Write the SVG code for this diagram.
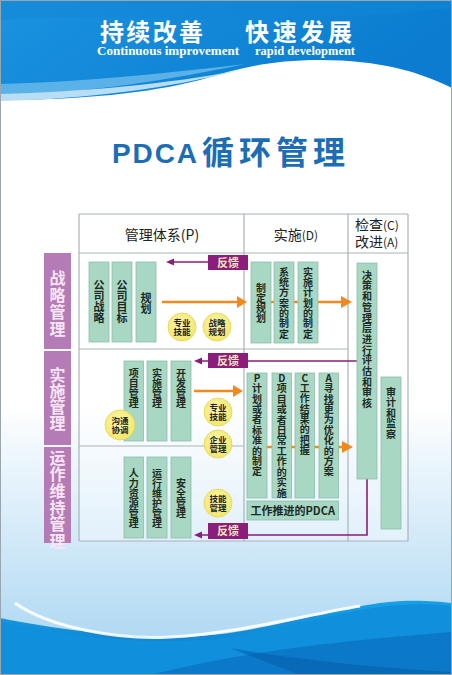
<svg xmlns="http://www.w3.org/2000/svg" width="452" height="675" viewBox="0 0 452 675">
<defs>
<linearGradient id="bg" x1="0" y1="0" x2="0" y2="1">
<stop offset="0" stop-color="#ffffff"/>
<stop offset="0.6" stop-color="#ffffff"/>
<stop offset="0.92" stop-color="#b6dcf4"/>
<stop offset="1" stop-color="#a9d6f2"/>
</linearGradient>
<linearGradient id="topblue" x1="0" y1="0" x2="1" y2="0.3">
<stop offset="0" stop-color="#1a93e0"/>
<stop offset="1" stop-color="#0b7ccf"/>
</linearGradient>
<linearGradient id="botblue" x1="0" y1="0" x2="0" y2="1">
<stop offset="0" stop-color="#18a0e6"/>
<stop offset="1" stop-color="#0a74c6"/>
</linearGradient>
<radialGradient id="yel" cx="0.45" cy="0.4" r="0.6">
<stop offset="0" stop-color="#fbf6b0"/>
<stop offset="1" stop-color="#f3e76a"/>
</radialGradient>
<style>
.box{fill:#a8d7c3;stroke:#8cbfaa;stroke-width:0.8}
.bt{font-family:"Noto Sans CJK SC","Noto Sans",sans-serif;font-weight:bold;font-size:10px;fill:#1d2a24;text-anchor:middle}
.bt11{font-size:11px}
.v{writing-mode:vertical-rl;text-anchor:start}
.fb{fill:#8b1d7d}
.fbt{font-family:"Noto Sans CJK SC",sans-serif;font-weight:bold;font-size:11px;fill:#f7e8b8;text-anchor:middle}
.lab{fill:#b57bb6}
.labt{font-family:"Noto Sans CJK SC",sans-serif;font-weight:bold;font-size:16px;fill:#f8e6f6;writing-mode:vertical-rl;text-anchor:start}
.circ{fill:url(#yel);stroke:#e2d45a;stroke-width:0.8}
.ct{font-family:"Noto Sans CJK SC",sans-serif;font-weight:bold;font-size:8.5px;fill:#222;text-anchor:middle}
.grid{stroke:#a9b3b8;stroke-width:1.2;fill:none}
.or{stroke:#f08a1c;stroke-width:2.5;fill:none}
.orh{fill:#f08a1c}
.pu{stroke:#8b1d7d;stroke-width:1.6;fill:none}
.puh{fill:#8b1d7d}
.ht{font-family:"Noto Sans CJK SC",sans-serif;font-size:14px;fill:#222}
</style>
</defs>

<!-- background -->
<rect x="0" y="0" width="452" height="675" fill="url(#bg)"/>
<path d="M0,0 H452 V88 C420,72 380,60 320,60 C270,60 240,68 200,80 C150,93 80,100 0,100 Z" fill="url(#topblue)"/>
<path d="M0,84 C80,82 160,74 245,64 C170,80 90,92 0,97 Z" fill="#6dbcec" opacity="0.8"/>
<path d="M0,94 C80,92 170,84 240,70 C170,88 90,99 0,101 Z" fill="#b8def6"/>
<path d="M0,20 C120,10 260,30 452,8 V0 H0 Z" fill="#1285d6" opacity="0.5"/>
<path d="M0,618 C60,630 140,640 200,636 C260,632 320,612 380,603 C410,599 435,601 452,603 V675 H0 Z" fill="url(#botblue)"/>
<path d="M0,622 C60,636 140,644 200,640 C260,636 320,616 380,607 C410,603 435,604 452,606 V675 H0 Z" fill="#0f8fdc"/>
<path d="M15,603 C50,628 120,640 170,637 C240,633 300,616 360,606" stroke="#ffffff" stroke-width="3" fill="none" opacity="0.9"/>
<path d="M150,675 C250,650 350,640 452,632 V675 Z" fill="#0a6fbf" opacity="0.7"/>
<path d="M230,648 C300,660 380,668 452,672 V675 H300 Z" fill="#075fae" opacity="0.6"/>
<rect x="0.5" y="0.5" width="451" height="674" fill="none" stroke="#9aa6ad" stroke-width="1"/>

<!-- header texts -->
<g id="header">
<text x="100" y="41" font-family="Noto Sans CJK SC,sans-serif" font-weight="bold" font-size="24" fill="#ffffff" textLength="103" lengthAdjust="spacing">持续改善</text>
<text x="245" y="41" font-family="Noto Sans CJK SC,sans-serif" font-weight="bold" font-size="24" fill="#ffffff" textLength="107" lengthAdjust="spacing">快速发展</text>
<text x="97" y="55" font-family="Liberation Serif,serif" font-weight="bold" font-size="12" fill="#ffffff" textLength="142" lengthAdjust="spacingAndGlyphs">Continuous improvement</text>
<text x="255" y="55" font-family="Liberation Serif,serif" font-weight="bold" font-size="12" fill="#ffffff" textLength="100" lengthAdjust="spacingAndGlyphs">rapid development</text>
</g>
<g id="title">
<text x="112" y="163" font-family="Liberation Sans,sans-serif" font-weight="bold" font-size="28" fill="#1b6db5" textLength="85" lengthAdjust="spacing">PDCA</text>
<text x="202" y="164" font-family="Noto Sans CJK SC,sans-serif" font-weight="bold" font-size="32" fill="#1b6db5" textLength="143" lengthAdjust="spacing">循环管理</text>
</g>

<!-- table grid -->
<g id="table">
<rect x="79" y="214" width="329" height="327" fill="#ffffff" opacity="0.35"/>
<path class="grid" d="M79,214 H408 M79,253 H408 M79,214 V541 M244,214 V541 M348,214 V541 M408,214 V541 M79,541 H408 M79,349 H244 M79,446 H244 M244,349 H348"/>
<text class="ht" x="162" y="240" text-anchor="middle">管理体系(P)</text>
<text class="ht" x="296" y="240" text-anchor="middle">实施<tspan font-size="12">(D)</tspan></text>
<text class="ht" x="355" y="230">检查<tspan font-size="12">(C)</tspan></text>
<text class="ht" x="355" y="247">改进<tspan font-size="12">(A)</tspan></text>
</g>

<!-- left labels -->
<g id="label-strategy">
<rect class="lab" x="44" y="253" width="27" height="96"/>
<text class="labt" x="57.5" y="269.5" font-size="17" letter-spacing="1">战略管理</text>
</g>
<g id="label-implement">
<rect class="lab" x="44" y="351" width="27" height="94"/>
<text class="labt" x="57.5" y="367">实施管理</text>
</g>
<g id="label-operate">
<rect class="lab" x="44" y="447" width="27" height="96"/>
<text class="labt" x="57.5" y="449.5" font-size="15" letter-spacing="0.7">运作维持管理</text>
</g>

<!-- connectors -->
<g id="connectors">
<path class="or" d="M162,302 H238"/>
<polygon class="orh" points="237,296 247,302 237,308"/>
<path class="or" d="M271,302 H274 M294,302 H298 M318,302 H343"/>
<polygon class="orh" points="341,296 352,302 341,308"/>
<path class="or" d="M194,391 H234"/>
<polygon class="orh" points="233,385 243,391 233,397"/>
<path class="or" d="M267,447 H272 M291,447 H295 M314,447 H319 M338,447 H343"/>
<polygon class="orh" points="342,441 353,447 342,453"/>
<path class="pu" d="M208,262 H172"/>
<polygon class="puh" points="174,258.5 166,262 174,265.5"/>
<path class="pu" d="M208,361 H200 M248,361 H357"/>
<polygon class="puh" points="202,357.5 194,361 202,364.5"/>
<path class="pu" d="M208,535 H200 M248,535 H367 V479"/>
<polygon class="puh" points="202,531.5 194,535 202,538.5"/>
</g>

<!-- feedback boxes -->
<g id="feedback-1"><rect class="fb" x="208" y="255" width="40" height="15"/><text class="fbt" x="228" y="266.5">反馈</text></g>
<g id="feedback-2"><rect class="fb" x="208" y="353" width="40" height="15"/><text class="fbt" x="228" y="364.5">反馈</text></g>
<g id="feedback-3"><rect class="fb" x="208" y="523" width="40" height="16"/><text class="fbt" x="228" y="535">反馈</text></g>

<!-- row 1 P -->
<g id="n-gongsi-zhanlue"><rect class="box" x="89" y="262" width="20" height="80"/>
<text class="bt bt11 v" x="99" y="279.5">公司战略</text></g>
<g id="n-gongsi-mubiao"><rect class="box" x="112" y="262" width="20" height="80"/>
<text class="bt bt11 v" x="122" y="279.5">公司目标</text></g>
<g id="n-guihua"><rect class="box" x="136" y="262" width="20" height="80"/>
<text class="bt bt11 v" x="146" y="292.5">规划</text></g>
<g id="c-zhuanye-1"><circle class="circ" cx="182" cy="327" r="14"/><text class="ct"><tspan x="182" y="326">专业</tspan><tspan x="182" y="335">技能</tspan></text></g>
<g id="c-zhanlue"><circle class="circ" cx="217" cy="327" r="14"/><text class="ct"><tspan x="217" y="326">战略</tspan><tspan x="217" y="335">规划</tspan></text></g>

<!-- row 1 D -->
<g id="n-zhiding-guihua"><rect class="box" x="251" y="262" width="20" height="81"/>
<text class="bt v" x="261" y="283">制定规划</text></g>
<g id="n-xitong"><rect class="box" x="274" y="262" width="20" height="81"/>
<text class="bt v" x="284" y="267" letter-spacing="0.33">系统方案的制定</text></g>
<g id="n-shishi-jihua"><rect class="box" x="298" y="262" width="20" height="81"/>
<text class="bt v" x="308" y="267" letter-spacing="0.33">实施计划的制定</text></g>

<!-- C/A column -->
<g id="n-juece"><rect class="box" x="357" y="263" width="20" height="216"/>
<text class="bt v" x="367" y="270" font-size="10.5" letter-spacing="0.7">决策和管理层进行评估和审核</text></g>
<g id="n-shenji"><rect class="box" x="381" y="377" width="20" height="152"/>
<text class="bt v" x="391" y="387" letter-spacing="0.5">审计和监察</text></g>

<!-- row 2 P -->
<g id="n-xiangmu"><rect class="box" x="124" y="361" width="19.5" height="80"/>
<text class="bt v" x="133.75" y="368">项目管理</text></g>
<g id="n-shishi"><rect class="box" x="147" y="361" width="20" height="80"/>
<text class="bt v" x="157" y="368">实施管理</text></g>
<g id="n-kaifa"><rect class="box" x="171" y="361" width="20" height="80"/>
<text class="bt v" x="181" y="368">开发管理</text></g>
<g id="c-goutong"><circle class="circ" cx="120" cy="425" r="15"/><text class="ct"><tspan x="120" y="424">沟通</tspan><tspan x="120" y="433">协调</tspan></text></g>
<g id="c-zhuanye-2"><circle class="circ" cx="218" cy="412" r="14"/><text class="ct"><tspan x="218" y="411">专业</tspan><tspan x="218" y="420">技能</tspan></text></g>
<g id="c-qiye"><circle class="circ" cx="218" cy="444" r="14"/><text class="ct"><tspan x="218" y="443">企业</tspan><tspan x="218" y="452">管理</tspan></text></g>

<!-- row 2 D -->
<g id="n-p"><rect class="box" x="247" y="373" width="20" height="125"/>
<text class="bt" x="257" y="382">P</text>
<text class="bt v" x="257" y="383.4" letter-spacing="0.4">计划或者标准的制定</text></g>
<g id="n-d"><rect class="box" x="272" y="373" width="19.5" height="125"/>
<text class="bt" x="281.75" y="382">D</text>
<text class="bt v" x="281.75" y="383.4" letter-spacing="0.45">项目或者日常工作的实施</text></g>
<g id="n-c"><rect class="box" x="295" y="373" width="19.5" height="125"/>
<text class="bt" x="304.75" y="382">C</text>
<text class="bt v" x="304.75" y="383.3" letter-spacing="0.3">工作结果的把握</text></g>
<g id="n-a"><rect class="box" x="319" y="373" width="19.5" height="125"/>
<text class="bt" x="328.75" y="382">A</text>
<text class="bt v" x="328.75" y="383.4" letter-spacing="0.4">寻找更为优化的方案</text></g>
<g id="n-pdca"><rect class="box" x="247" y="501" width="91.5" height="19"/>
<text class="bt bt11" x="292.75" y="515">工作推进的PDCA</text></g>

<!-- row 3 P -->
<g id="n-renli"><rect class="box" x="124" y="457" width="19.5" height="81"/>
<text class="bt v" x="133.75" y="468">人力资源管理</text></g>
<g id="n-yunxing"><rect class="box" x="147" y="457" width="20" height="81"/>
<text class="bt v" x="157" y="468">运行维护管理</text></g>
<g id="n-anquan"><rect class="box" x="171" y="457" width="20" height="81"/>
<text class="bt v" x="181" y="478">安全管理</text></g>
<g id="c-jineng"><circle class="circ" cx="218" cy="503" r="14"/><text class="ct"><tspan x="218" y="502">技能</tspan><tspan x="218" y="511">管理</tspan></text></g>
</svg>
